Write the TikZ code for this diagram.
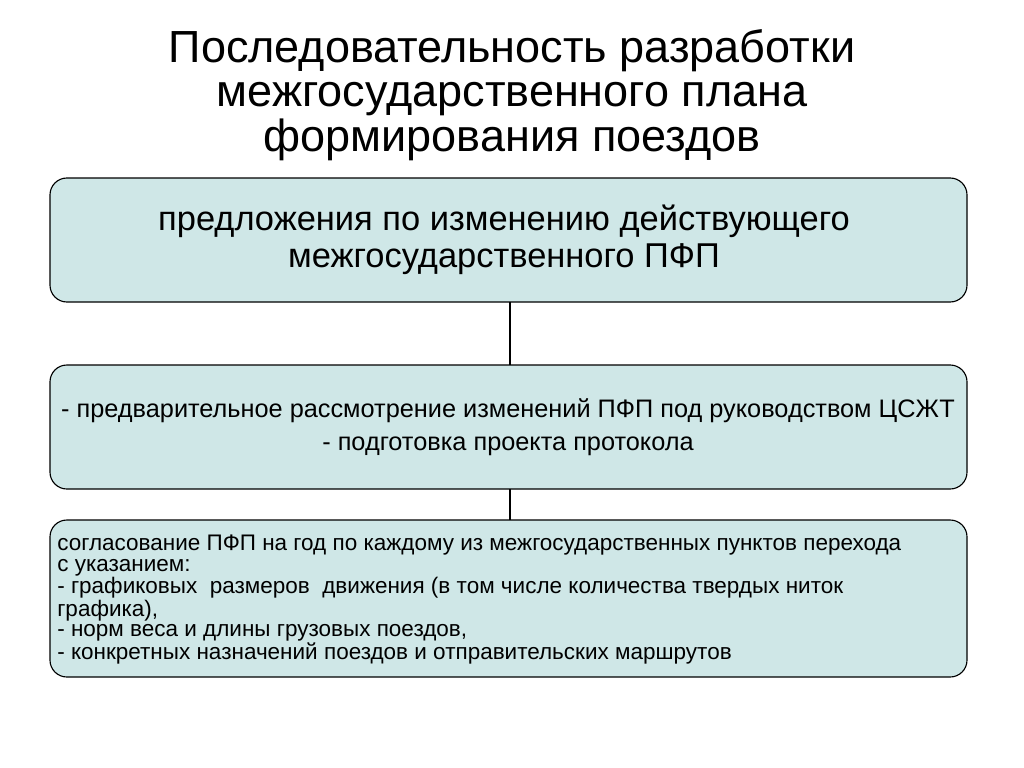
\documentclass[tikz,border=0pt]{standalone}
\usepackage{fontspec}
\setmainfont{Liberation Sans}
\usetikzlibrary{positioning}
\definecolor{boxfill}{HTML}{CFE7E7}
\tikzset{
  stagebox/.style={draw=black, thick, fill=boxfill, rounded corners=12pt},
  link/.style={black, line width=1.6pt}
}
\begin{document}
\begin{tikzpicture}[x=0.025cm, y=-0.025cm]
\useasboundingbox (0,0) rectangle (1024,768);
%title
\node[align=center, font=\fontsize{32}{31.5}\selectfont] (title) at (512,95)
  {Последовательность разработки\\межгосударственного плана\\формирования поездов};
%boxes
\draw[stagebox] (50,178) rectangle (967,302);
\draw[stagebox] (50,365) rectangle (967,489);
\draw[stagebox] (50,520) rectangle (967,677);
\coordinate (b1s) at (510,302);
\coordinate (b2n) at (510,365);
\coordinate (b2s) at (510,489);
\coordinate (b3n) at (510,520);
%texts
\node[align=center, font=\fontsize{24.5}{26.5}\selectfont] (prop) at (504,240)
  {предложения по изменению действующего\\межгосударственного ПФП};
\node[align=center, font=\fontsize{18}{23.5}\selectfont] (prelim) at (508,427)
  {- предварительное рассмотрение изменений ПФП под руководством ЦСЖТ\\- подготовка проекта протокола};
\node[align=left, anchor=north west, inner sep=0pt, font=\fontsize{16}{14.5}\selectfont] (agree) at (57,535)
  {согласование ПФП на год по каждому из межгосударственных пунктов перехода\\
   с указанием:\\
   - графиковых\ \ размеров\ \ движения (в том числе количества твердых ниток\\
   графика),\\
   - норм веса и длины грузовых поездов,\\
   - конкретных назначений поездов и отправительских маршрутов};
%connectors
\draw[link] (b1s) -- (b2n);
\draw[link] (b2s) -- (b3n);
\end{tikzpicture}
\end{document}
